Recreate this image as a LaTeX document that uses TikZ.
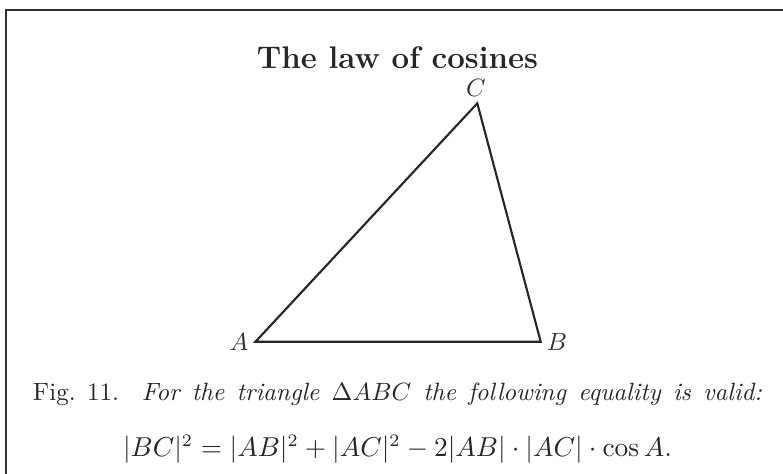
\documentclass[tikz,border=0pt]{standalone}
\begin{document}
\begin{tikzpicture}[x=0.4pt,y=-0.4pt,
  frame/.style={draw=black!80,line width=0.8pt},
  tri/.style={draw=black!85,line width=0.85pt,line join=miter},
  vlabel/.style={inner sep=0pt,text=black!80,font=\fontsize{10}{12}\selectfont},
  txt/.style={inner sep=0pt,anchor=base,text=black!85,font=\fontsize{10}{12}\selectfont}]
\useasboundingbox (0,0) rectangle (783,474);
\begin{scope}
\clip (0,0) rectangle (783,474);
\draw[frame] (6.5,10) rectangle (800,490);
\end{scope}
\node[txt,font=\fontsize{12.5}{15}\selectfont\bfseries] (title) at (397.5,68) {The law of cosines};
\coordinate (A) at (255.5,341.7);
\coordinate (B) at (540.7,341.7);
\coordinate (C) at (477.3,103.3);
\draw[tri] (A) -- (B) -- (C) -- cycle;
\node[vlabel] (la) at (239,342) {$A$};
\node[vlabel] (lb) at (557,342) {$B$};
\node[vlabel] (lc) at (476,88) {$C$};
\node[txt] (cap) at (397.5,400) {\makebox[291.6pt][s]{Fig.~11.\ \ \textit{For the triangle $\Delta ABC$ the following equality is valid:}}};
\node[txt,font=\fontsize{10.6}{13}\selectfont] (eq) at (397.5,456) {$|BC|^2=|AB|^2+|AC|^2-2|AB|\cdot|AC|\cdot\cos A.$};
\end{tikzpicture}
\end{document}
